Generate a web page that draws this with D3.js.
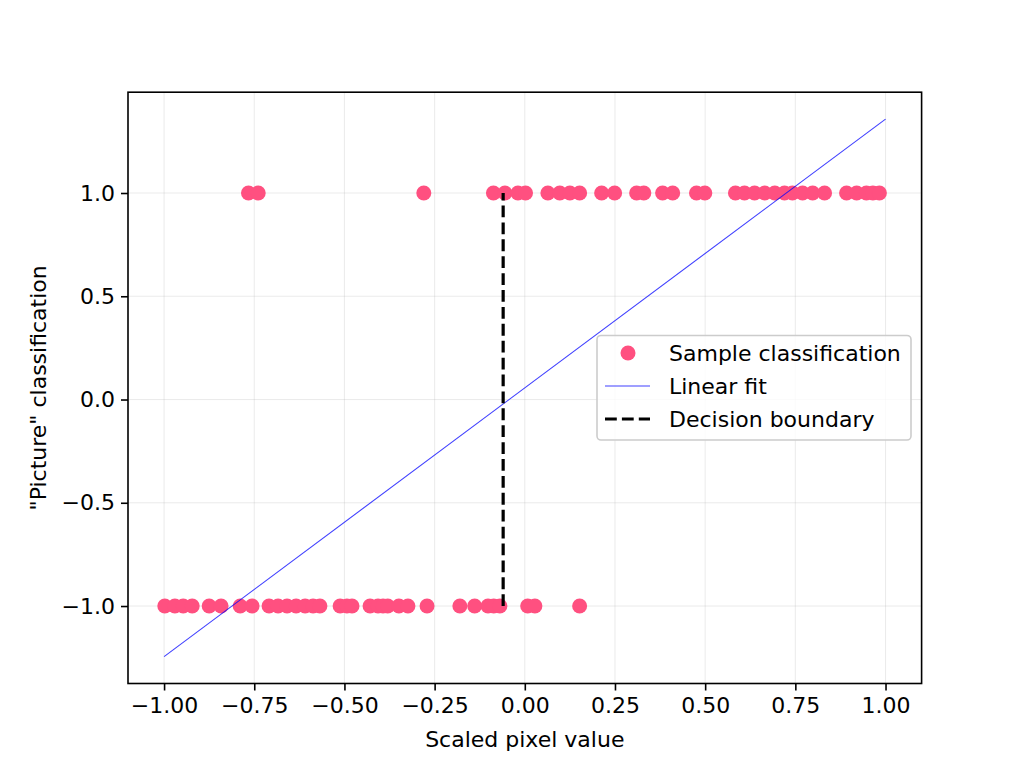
<!DOCTYPE html>
<html>
<head>
<meta charset="utf-8">
<script src="https://cdn.jsdelivr.net/npm/d3@7"></script>
<style>
  html, body { margin: 0; padding: 0; background: #fff; }
  svg { display: block; font-family: "DejaVu Sans", sans-serif; }
</style>
</head>
<body>
<svg id="chart" width="1024" height="768"></svg>
<script>
// ---- data ----
const topX = [-0.766, -0.739, -0.280, -0.087, -0.055, -0.019, 0.002, 0.064, 0.097, 0.125, 0.152,
  0.213, 0.249, 0.310, 0.330, 0.382, 0.410, 0.476, 0.499, 0.584, 0.609, 0.637, 0.665, 0.693,
  0.720, 0.742, 0.770, 0.798, 0.831, 0.892, 0.920, 0.947, 0.965, 0.983];
const bottomX = [-0.998, -0.970, -0.947, -0.922, -0.875, -0.842, -0.789, -0.756, -0.709, -0.684,
  -0.659, -0.634, -0.609, -0.587, -0.568, -0.512, -0.493, -0.479, -0.429, -0.407, -0.393, -0.380,
  -0.349, -0.324, -0.271, -0.180, -0.139, -0.102, -0.086, -0.069, 0.008, 0.028, 0.152];
const fitX = [-1.0, 1.0];
const fitY = [-1.245, 1.358];
const boundaryX = -0.06;
const boundaryY = [-1.0, 1.0];
const xTicks = [-1.0, -0.75, -0.5, -0.25, 0, 0.25, 0.5, 0.75, 1.0];
const yTicks = [-1.0, -0.5, 0, 0.5, 1.0];
const legendLabels = ["Sample classification", "Linear fit", "Decision boundary"];

const samples = topX.map(x => ({x, y: 1})).concat(bottomX.map(x => ({x, y: -1})));

// ---- layout ----
const svg = d3.select("#chart");
const L = 128, R = 921.6, T = 92.2, B = 683.5;
const pink = "#ff5080";
const FS = "22px";

const x = d3.scaleLinear().domain([-1.1, 1.1]).range([L, R]);
const yMin = -1.245, yMax = 1.358, pad = (yMax - yMin) * 0.05;
const y = d3.scaleLinear().domain([yMin - pad, yMax + pad]).range([B, T]);

// grid
const grid = svg.append("g");
grid.selectAll(".gx").data(xTicks).join("line")
  .attr("x1", d => x(d)).attr("x2", d => x(d)).attr("y1", T).attr("y2", B)
  .attr("stroke", "#b0b0b0").attr("stroke-opacity", 0.25).attr("stroke-width", 1);
grid.selectAll(".gy").data(yTicks).join("line")
  .attr("y1", d => y(d)).attr("y2", d => y(d)).attr("x1", L).attr("x2", R)
  .attr("stroke", "#b0b0b0").attr("stroke-opacity", 0.25).attr("stroke-width", 1);

// points
svg.append("g").selectAll("circle").data(samples).join("circle")
  .attr("cx", d => x(d.x)).attr("cy", d => y(d.y)).attr("r", 7.5).attr("fill", pink);

// linear fit
svg.append("path")
  .datum(fitX.map((v, i) => [v, fitY[i]]))
  .attr("d", d3.line().x(d => x(d[0])).y(d => y(d[1])))
  .attr("fill", "none").attr("stroke", "blue").attr("stroke-opacity", 0.75).attr("stroke-width", 1.1);

// decision boundary
svg.append("line")
  .attr("x1", x(boundaryX)).attr("x2", x(boundaryX))
  .attr("y1", y(boundaryY[0])).attr("y2", y(boundaryY[1]))
  .attr("stroke", "#000").attr("stroke-width", 3.2).attr("stroke-dasharray", "11.8,5.1");

// axes
const fmtX = d3.format(".2f"), fmtY = d3.format(".1f");
const xAxis = svg.append("g").attr("transform", `translate(0,${B})`)
  .call(d3.axisBottom(x).tickValues(xTicks).tickFormat(fmtX).tickSize(7).tickPadding(6));
const yAxis = svg.append("g").attr("transform", `translate(${L},0)`)
  .call(d3.axisLeft(y).tickValues(yTicks).tickFormat(fmtY).tickSize(7).tickPadding(6));
[xAxis, yAxis].forEach(a => {
  a.select(".domain").remove();
  a.selectAll(".tick line").attr("stroke", "#000").attr("stroke-width", 1.6);
  a.selectAll(".tick text").attr("fill", "#000").style("font-size", FS).style("font-family", "DejaVu Sans");
});
xAxis.selectAll(".tick text").attr("dy", "0.76em");

// frame
svg.append("rect").attr("x", L).attr("y", T).attr("width", R - L).attr("height", B - T)
  .attr("fill", "none").attr("stroke", "#000").attr("stroke-width", 1.6);

// labels
svg.append("text").attr("x", (L + R) / 2).attr("y", 747).attr("text-anchor", "middle")
  .style("font-size", FS).text("Scaled pixel value");
svg.append("text").attr("transform", `translate(46,${(T + B) / 2}) rotate(-90)`)
  .attr("text-anchor", "middle").style("font-size", FS).text('"Picture" classification');

// legend
const lg = svg.append("g");
lg.append("rect").attr("x", 597).attr("y", 335.5).attr("width", 314).attr("height", 104.5)
  .attr("rx", 4).attr("fill", "#fff").attr("fill-opacity", 0.8)
  .attr("stroke", "#cccccc").attr("stroke-width", 1.6);
const rowY = [353, 386, 419];
lg.append("circle").attr("cx", 628).attr("cy", rowY[0]).attr("r", 7.5).attr("fill", pink);
lg.append("line").attr("x1", 605).attr("x2", 650).attr("y1", rowY[1]).attr("y2", rowY[1])
  .attr("stroke", "blue").attr("stroke-opacity", 0.75).attr("stroke-width", 1.1);
lg.append("line").attr("x1", 605).attr("x2", 650).attr("y1", rowY[2]).attr("y2", rowY[2])
  .attr("stroke", "#000").attr("stroke-width", 3.2).attr("stroke-dasharray", "11.8,5.1");
lg.selectAll("text.l").data(legendLabels).join("text")
  .attr("x", 669).attr("y", (d, i) => rowY[i]).attr("dy", "0.35em")
  .style("font-size", FS).text(d => d);
</script>
</body>
</html>
